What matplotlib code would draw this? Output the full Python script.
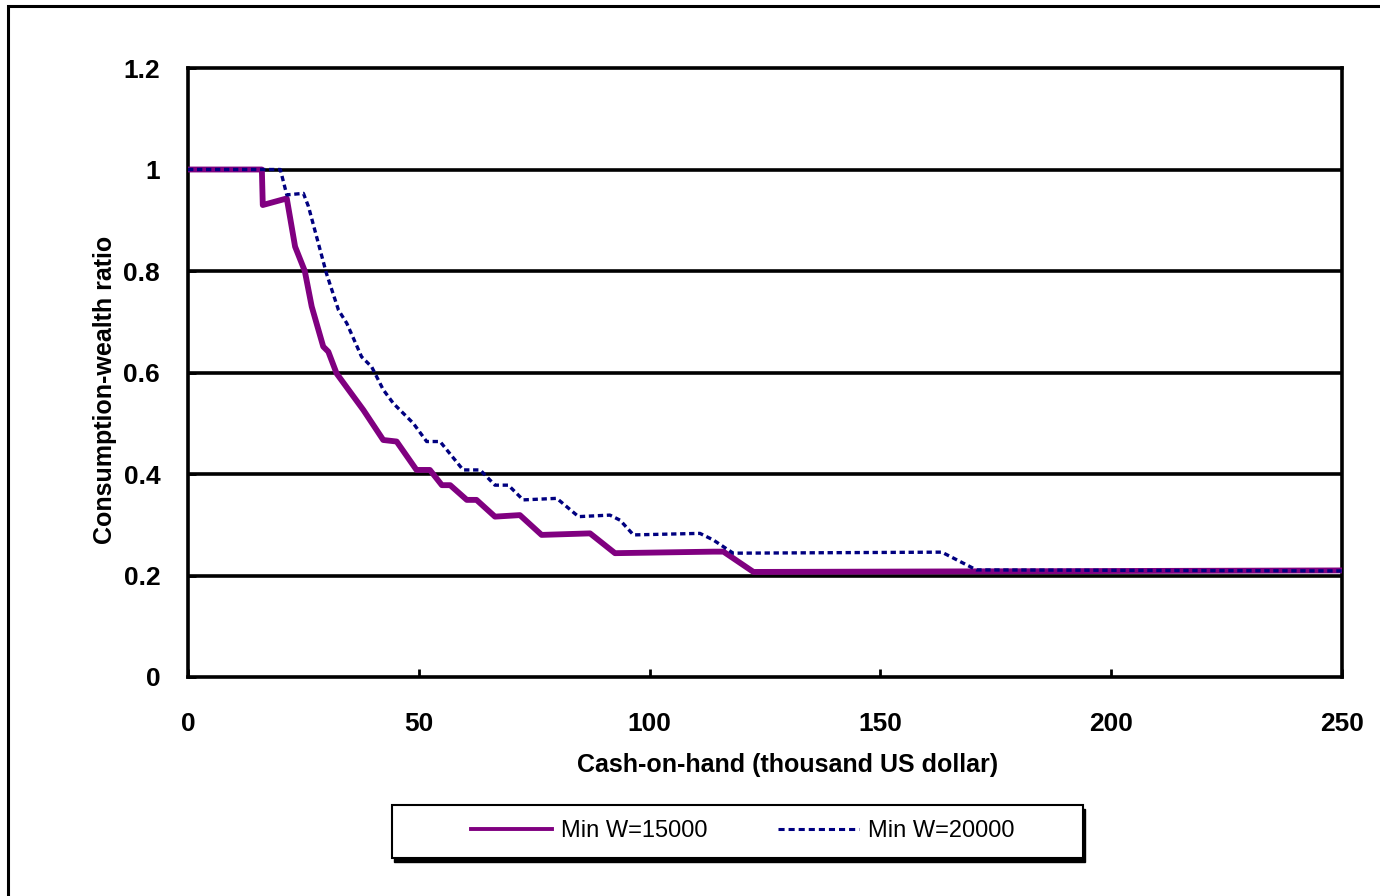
import matplotlib
matplotlib.use("Agg")
import matplotlib.pyplot as plt
from matplotlib.patches import Rectangle
from matplotlib.lines import Line2D

plt.rcParams['font.family'] = ['Liberation Sans', 'DejaVu Sans']

# MinW = 15000 (purple solid)
cash_15k = [0, 16, 16.2, 21.4, 23.2, 25.3, 26.8, 29.3, 30.4, 32.2, 38, 42.3, 45.2,
            49.5, 52.4, 55, 56.8, 60.4, 62.5, 66.5, 71.9, 76.6, 87.1, 92.5, 113.8,
            116, 122.5, 250]
ratio_15k = [1.0, 1.0, 0.93, 0.943, 0.848, 0.80, 0.73, 0.651, 0.641, 0.598, 0.526,
             0.467, 0.464, 0.408, 0.408, 0.378, 0.378, 0.349, 0.349, 0.316, 0.319,
             0.28, 0.283, 0.244, 0.247, 0.247, 0.207, 0.21]

# MinW = 20000 (blue dashed)
cash_20k = [0, 20, 21.4, 25, 26.1, 30, 32.6, 34.4, 37.6, 39.8, 42.3, 44.5, 48.8,
            51.7, 54.6, 59.6, 63.3, 66.5, 69.4, 72.6, 79.9, 84.6, 91.4, 93.6, 96.5,
            110.9, 113.8, 118.1, 163.3, 170.8, 250]
ratio_20k = [1.0, 1.0, 0.95, 0.953, 0.927, 0.795, 0.723, 0.697, 0.631, 0.611, 0.566,
             0.539, 0.5, 0.464, 0.464, 0.408, 0.408, 0.378, 0.378, 0.349, 0.352,
             0.316, 0.319, 0.309, 0.28, 0.283, 0.27, 0.244, 0.246, 0.211, 0.209]

x_ticks = [0, 50, 100, 150, 200, 250]
y_ticks = [0, 0.2, 0.4, 0.6, 0.8, 1.0, 1.2]
y_tick_labels = ['0', '0.2', '0.4', '0.6', '0.8', '1', '1.2']
labels = ['Min W=15000', 'Min W=20000']

W, H = 1380, 896
fig = plt.figure(figsize=(W / 100, H / 100), dpi=100)
ax = fig.add_axes([188 / W, 1 - 677 / H, (1342 - 188) / W, (677 - 68) / H])

# outer chart frame (cropped at right/bottom)
fig.add_artist(Rectangle((8 / W, -0.5), 2.0, 1 - 6 / H + 0.5, transform=fig.transFigure,
                         fill=False, edgecolor='black', linewidth=2.2))

for y in y_ticks[1:-1]:
    ax.axhline(y, color='black', linewidth=2.6, zorder=1)

ax.plot(cash_15k, ratio_15k, color='#800080', linewidth=4.2, zorder=3)
ax.plot(cash_20k, ratio_20k, color='#000080', linewidth=2.4, dashes=(1.6, 1.1), zorder=4)

ax.set_xlim(0, 250)
ax.set_ylim(0, 1.2)
ax.set_xticks(x_ticks)
ax.set_yticks(y_ticks)
ax.set_yticklabels(y_tick_labels)
for s in ax.spines.values():
    s.set_linewidth(2.6)
ax.tick_params(axis='x', direction='in', length=6, width=2, pad=25, labelsize=19)
ax.tick_params(axis='y', direction='in', length=6, width=2, pad=20, labelsize=19)
for lab in ax.get_xticklabels() + ax.get_yticklabels():
    lab.set_fontweight('bold')

fig.text(788 / W, 1 - 765 / H, 'Cash-on-hand (thousand US dollar)', ha='center', va='center',
         fontsize=18, fontweight='bold')
fig.text(105 / W, 1 - 390 / H, 'Consumption-wealth ratio', ha='center', va='center',
         rotation=90, fontsize=18, fontweight='bold')

# legend box with shadow
lx0, lx1, ly0, ly1 = 392, 1083, 805, 858
fig.add_artist(Rectangle(((lx0 + 2) / W, 1 - (ly1 + 4) / H), (lx1 - lx0) / W, (ly1 - ly0) / H,
                         transform=fig.transFigure, facecolor='black', edgecolor='black'))
fig.add_artist(Rectangle((lx0 / W, 1 - ly1 / H), (lx1 - lx0) / W, (ly1 - ly0) / H,
                         transform=fig.transFigure, facecolor='white', edgecolor='black',
                         linewidth=1.5))
handles = [Line2D([], [], color='#800080', linewidth=2.8),
           Line2D([], [], color='#000080', linewidth=2.2, dashes=(2.0, 1.3))]
fig.legend(handles, labels, loc='center', bbox_to_anchor=((lx0 + lx1) / 2 / W + 0.004, 1 - 831 / H),
           ncol=2, frameon=False, fontsize=17, handlelength=3.4, handletextpad=0.4,
           columnspacing=3.0)

fig.savefig('out.png', dpi=100)
